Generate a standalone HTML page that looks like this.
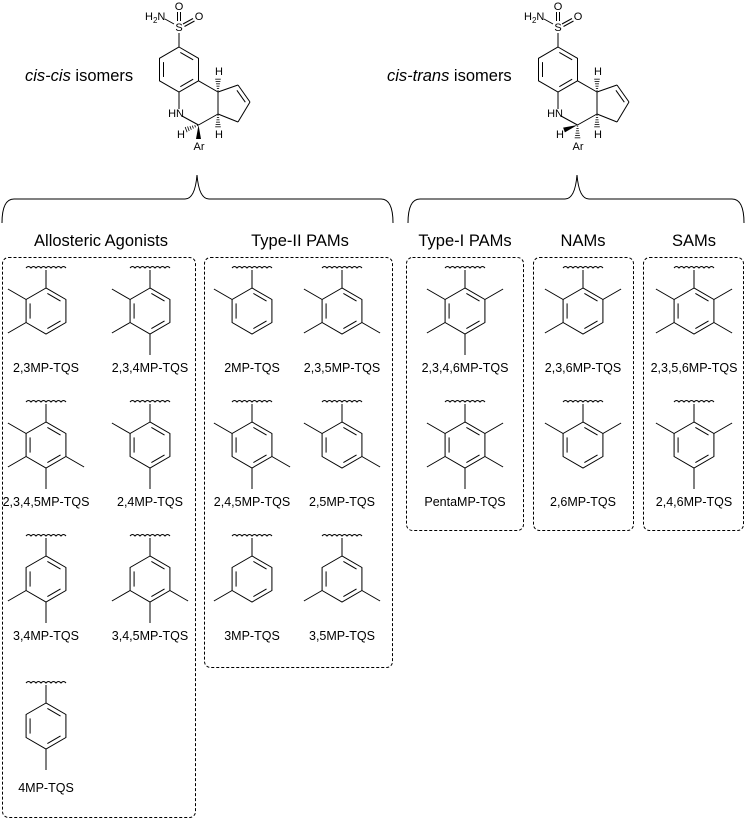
<!DOCTYPE html>
<html><head><meta charset="utf-8">
<style>
html,body{margin:0;padding:0;background:#fff;}
svg{display:block;}
text{font-family:"Liberation Sans",Arial,sans-serif;fill:#000;}
.lab{font-size:12.5px;text-anchor:middle;}
.hd{font-size:16.5px;text-anchor:middle;}
.at{font-size:11px;}
</style></head>
<body>
<svg id="s" width="745" height="820" viewBox="0 0 745 820" xmlns="http://www.w3.org/2000/svg">
<g fill="none" stroke="#000" stroke-width="1">
<path d="M2,223 Q2,199 14,199 L185,199 Q195,199 197,175 Q199,199 209,199 L381,199 Q393,199 393,223"/>
<path d="M408,223 Q408,199 420,199 L565,199 Q575,199 577,175 Q579,199 589,199 L732,199 Q744,199 744,223"/>
</g>
<g fill="none" stroke="#000" stroke-width="1" stroke-dasharray="3,2">
<rect x="2.5" y="257.5" width="193" height="560" rx="6"/>
<rect x="204.5" y="257.5" width="188" height="410" rx="6"/>
<rect x="406.5" y="257.5" width="117" height="273" rx="6"/>
<rect x="533.5" y="257.5" width="100" height="273" rx="6"/>
<rect x="643.5" y="257.5" width="100" height="273" rx="6"/>
</g>
<text class="hd" x="101" y="246">Allosteric Agonists</text>
<text class="hd" x="300" y="246">Type-II PAMs</text>
<text class="hd" x="465" y="246">Type-I PAMs</text>
<text class="hd" x="583" y="246">NAMs</text>
<text class="hd" x="694" y="246">SAMs</text>

<text x="25" y="81" style="font-size:16.5px"><tspan font-style="italic">cis-cis</tspan> isomers</text>
<text x="387" y="81" style="font-size:16.5px"><tspan font-style="italic">cis-trans</tspan> isomers</text>

<!-- cell labels -->
<text class="lab" x="46" y="372">2,3MP-TQS</text>
<text class="lab" x="150" y="372">2,3,4MP-TQS</text>
<text class="lab" x="46" y="506">2,3,4,5MP-TQS</text>
<text class="lab" x="150" y="506">2,4MP-TQS</text>
<text class="lab" x="46" y="640">3,4MP-TQS</text>
<text class="lab" x="150" y="640">3,4,5MP-TQS</text>
<text class="lab" x="46" y="792">4MP-TQS</text>
<text class="lab" x="252" y="372">2MP-TQS</text>
<text class="lab" x="342" y="372">2,3,5MP-TQS</text>
<text class="lab" x="252" y="506">2,4,5MP-TQS</text>
<text class="lab" x="342" y="506">2,5MP-TQS</text>
<text class="lab" x="252" y="640">3MP-TQS</text>
<text class="lab" x="342" y="640">3,5MP-TQS</text>
<text class="lab" x="465" y="372">2,3,4,6MP-TQS</text>
<text class="lab" x="465" y="506">PentaMP-TQS</text>
<text class="lab" x="583" y="372">2,3,6MP-TQS</text>
<text class="lab" x="583" y="506">2,6MP-TQS</text>
<text class="lab" x="694" y="372">2,3,5,6MP-TQS</text>
<text class="lab" x="694" y="506">2,4,6MP-TQS</text>

<!-- top structures text -->
<g id="t0">
<text class="at" x="179" y="10" text-anchor="middle">O</text>
<text class="at" x="199" y="20" text-anchor="middle">O</text>
<text class="at" x="179" y="31" text-anchor="middle">S</text>
<text class="at" x="145" y="20">H<tspan font-size="8" dy="3">2</tspan><tspan dy="-3">N</tspan></text>
<text class="at" x="184" y="117" text-anchor="end">HN</text>
<text class="at" x="219" y="75" text-anchor="middle">H</text>
<text class="at" x="219" y="138" text-anchor="middle">H</text>
<text class="at" x="181" y="138" text-anchor="middle">H</text>
<text class="at" x="199" y="150" text-anchor="middle">Ar</text>
</g>
<g transform="translate(379,0)">
<text class="at" x="179" y="10" text-anchor="middle">O</text>
<text class="at" x="199" y="20" text-anchor="middle">O</text>
<text class="at" x="179" y="31" text-anchor="middle">S</text>
<text class="at" x="145" y="20">H<tspan font-size="8" dy="3">2</tspan><tspan dy="-3">N</tspan></text>
<text class="at" x="184" y="117" text-anchor="end">HN</text>
<text class="at" x="219" y="75" text-anchor="middle">H</text>
<text class="at" x="219" y="138" text-anchor="middle">H</text>
<text class="at" x="181" y="138" text-anchor="middle">H</text>
<text class="at" x="199" y="150" text-anchor="middle">Ar</text>
</g>
<g id="draw" fill="none" stroke="#000" stroke-width="1"></g>
</svg>
<script>
(function(){
var g=document.getElementById('draw'),NS='http://www.w3.org/2000/svg';
function L(x1,y1,x2,y2,w){var e=document.createElementNS(NS,'line');e.setAttribute('x1',x1);e.setAttribute('y1',y1);e.setAttribute('x2',x2);e.setAttribute('y2',y2);if(w)e.setAttribute('stroke-width',w);g.appendChild(e);}
function P(d,fill){var e=document.createElementNS(NS,'path');e.setAttribute('d',d);if(fill){e.setAttribute('fill','#000');e.setAttribute('stroke','none');}g.appendChild(e);}
function inner(a,b,c,sh){ // inner parallel line of edge a-b towards center c
 var mx=(a[0]+b[0])/2,my=(a[1]+b[1])/2,dx=c[0]-mx,dy=c[1]-my,d=Math.hypot(dx,dy);dx/=d;dy/=d;
 var t=sh||0.17;
 var ax=a[0]+(b[0]-a[0])*t+dx*4,ay=a[1]+(b[1]-a[1])*t+dy*4,bx=b[0]+(a[0]-b[0])*t+dx*4,by=b[1]+(a[1]-b[1])*t+dy*4;
 L(ax,ay,bx,by);}
function wavy(cx,y){var d='M'+(cx-20)+','+y;for(var i=0;i<8;i++){d+=' q2.5,-3 5,0';}P(d);}
var ang=[-90,-150,150,90,30,-30];
function ring(cx,wy,subs){
 var r=23,cy=wy+43,v=[];
 for(var i=0;i<6;i++){var a=ang[i]*Math.PI/180;v.push([cx+r*Math.cos(a),cy+r*Math.sin(a)]);}
 var d='M'+v[0];for(i=1;i<6;i++)d+=' L'+v[i];d+=' Z';P(d);
 // inner bonds: 0(top-UR),2(LR-bottom),4(LL-UL) in drawing order: v0-v5, v4-v3, v2-v1
 inner(v[0],v[5],[cx,cy]);inner(v[4],v[3],[cx,cy]);inner(v[2],v[1],[cx,cy]);
 wavy(cx,wy);L(cx,wy+2,cx,v[0][1]);
 subs.forEach(function(p){var a=ang[p-1]*Math.PI/180,R=r+21;L(v[p-1][0],v[p-1][1],cx+R*Math.cos(a),cy+R*Math.sin(a));});
}
var R1=268,R2=402,R3=536,R4=683;
ring(46,R1,[2,3]);ring(150,R1,[2,3,4]);
ring(46,R2,[2,3,4,5]);ring(150,R2,[2,4]);
ring(46,R3,[3,4]);ring(150,R3,[3,4,5]);
ring(46,R4,[4]);
ring(252,R1,[2]);ring(342,R1,[2,3,5]);
ring(252,R2,[2,4,5]);ring(342,R2,[2,5]);
ring(252,R3,[3]);ring(342,R3,[3,5]);
ring(465,R1,[2,3,4,6]);ring(465,R2,[2,3,4,5,6]);
ring(583,R1,[2,3,6]);ring(583,R2,[2,6]);
ring(694,R1,[2,3,5,6]);ring(694,R2,[2,4,6]);

function hash(x1,y1,x2,y2){var n=6,dx=x2-x1,dy=y2-y1,l=Math.hypot(dx,dy),px=-dy/l,py=dx/l;
 for(var i=0;i<n;i++){var t=(i+0.5)/n,w=0.5+2.5*t,x=x1+dx*t,y=y1+dy*t;L(x-px*w,y-py*w,x+px*w,y+py*w,0.8);}}
function wedge(x1,y1,x2,y2){var dx=x2-x1,dy=y2-y1,l=Math.hypot(dx,dy),px=-dy/l*2.5,py=dx/l*2.5;
 P('M'+x1+','+y1+' L'+(x2+px)+','+(y2+py)+' L'+(x2-px)+','+(y2-py)+' Z',true);}
function core(o,trans){
 var B=[[179,47],[198.5,58.3],[198.5,80.8],[179,92],[159.5,80.8],[159.5,58.3]],c=[179,69.5];
 B=B.map(function(p){return[p[0]+o,p[1]]});c=[c[0]+o,c[1]];
 var d='M'+B[0];for(var i=1;i<6;i++)d+=' L'+B[i];d+=' Z';P(d);
 inner(B[0],B[1],c);inner(B[2],B[3],c);inner(B[4],B[5],c);
 var C9b=[218+o,92],C3a=[218+o,114],C4=[198.5+o,125],N=[179+o,114],C1=[238+o,85],C2=[250+o,102],C3=[238+o,122];
 L(B[2][0],B[2][1],C9b[0],C9b[1]);L(C9b[0],C9b[1],C3a[0],C3a[1]);L(C3a[0],C3a[1],C4[0],C4[1]);
 L(C4[0],C4[1],N[0]+3,N[1]+2);L(B[3][0],B[3][1],N[0],N[1]-5);
 L(C9b[0],C9b[1],C1[0],C1[1]);L(C1[0],C1[1],C2[0],C2[1]);L(C2[0],C2[1],C3[0],C3[1]);L(C3[0],C3[1],C3a[0],C3a[1]);
 inner(C1,C2,[233+o,104],0.15);
 hash(C9b[0],C9b[1],C9b[0],78);hash(C3a[0],C3a[1],C3a[0],128);
 if(!trans){wedge(C4[0],C4[1],C4[0],139);hash(C4[0],C4[1],185+o,130);}
 else{hash(C4[0],C4[1],C4[0],139);wedge(C4[0],C4[1],185+o,130);}
 // sulfonamide
 L(179+o,47,179+o,33);
 L(177.5+o,21,177.5+o,12);L(180.5+o,21,180.5+o,12);
 L(183+o,24,193+o,18.5);L(184.5+o,26.5,194.5+o,21);
 L(165+o,19,174+o,24);
}
core(0,false);core(379,true);
})();
</script>
</body></html>
